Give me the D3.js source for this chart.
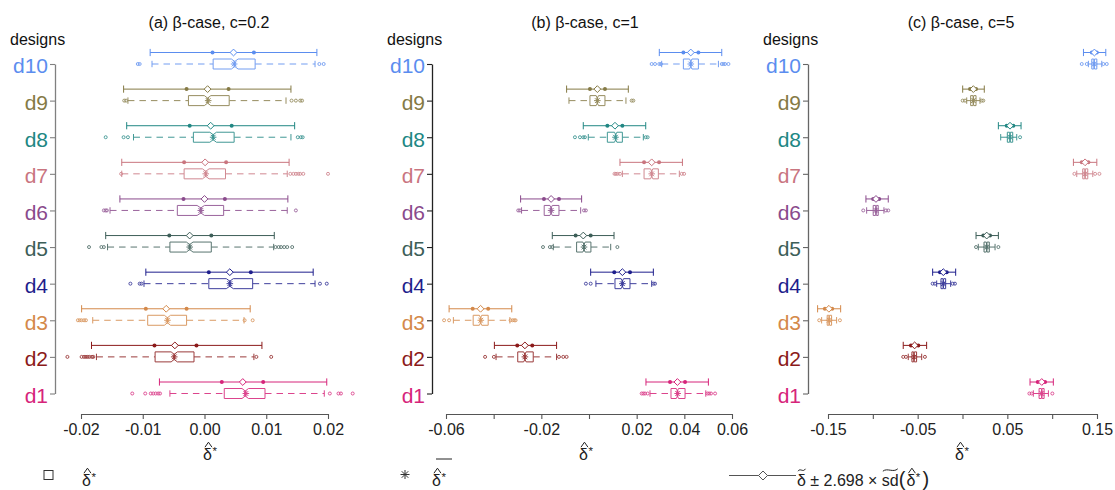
<!DOCTYPE html>
<html>
<head>
<meta charset="utf-8">
<script src="https://cdn.jsdelivr.net/npm/d3@7"></script>
<style>
  body { margin: 0; background: #fff; }
  text { font-family: "Liberation Sans", Arial, sans-serif; }
</style>
</head>
<body>
<svg id="chart" width="1115" height="490"></svg>
<script>
// designs, bottom to top
var designs = ["d1", "d2", "d3", "d4", "d5", "d6", "d7", "d8", "d9", "d10"];
var designColors = ["#D6247A", "#8B1A1A", "#D4894A", "#1E1E8C", "#3D5E58",
                    "#8A4A8C", "#C9757F", "#218783", "#857A45", "#5B8DEF"];

// upper line: [lo, dotLo, centre, dotHi, hi]  (centre +- 0.6745 sd, +- 2.698 sd)
// lower box:  [whiskerLo, q1, median, q3, whiskerHi]

// ---- (a) c = 0.2
var aBand = [
  [-0.0073, 0.0028, 0.0062, 0.0095, 0.0198],
  [-0.0183, -0.0081, -0.0048, -0.0013, 0.0093],
  [-0.0199, -0.0095, -0.0062, -0.0029, 0.0074],
  [-0.0095, 0.0007, 0.0041, 0.0075, 0.0176],
  [-0.0160, -0.0057, -0.0024, 0.0011, 0.0113],
  [-0.0137, -0.0034, 0.0000, 0.0033, 0.0135],
  [-0.0134, -0.0033, 0.0001, 0.0035, 0.0137],
  [-0.0126, -0.0024, 0.0010, 0.0044, 0.0146],
  [-0.0131, -0.0029, 0.0005, 0.0039, 0.0140],
  [-0.0088, 0.0013, 0.0047, 0.0080, 0.0182]
];
var aBox = [
  [-0.0056, 0.0032, 0.0066, 0.0098, 0.0194],
  [-0.0175, -0.0080, -0.0049, -0.0017, 0.0080],
  [-0.0181, -0.0092, -0.0060, -0.0029, 0.0064],
  [-0.0098, 0.0007, 0.0041, 0.0078, 0.0179],
  [-0.0157, -0.0056, -0.0024, 0.0011, 0.0112],
  [-0.0153, -0.0044, -0.0006, 0.0031, 0.0134],
  [-0.0134, -0.0033, 0.0002, 0.0034, 0.0134],
  [-0.0115, -0.0018, 0.0014, 0.0048, 0.0140],
  [-0.0124, -0.0026, 0.0005, 0.0040, 0.0132],
  [-0.0085, 0.0014, 0.0049, 0.0082, 0.0179]
];
var aMean = [0.0067, -0.0049, -0.0060, 0.0041, -0.0024, -0.0006, 0.0002, 0.0014, 0.0006, 0.0048];
var aOut = [
  [-0.0117, -0.0096, -0.0087, -0.0083, -0.0079, -0.0075, -0.0072, 0.0203, 0.0217, 0.0221, 0.0240],
  [-0.0222, -0.0199, -0.0195, -0.0192, -0.0189, -0.0186, -0.0182, -0.0180, 0.0084, 0.0108],
  [-0.0205, -0.0202, -0.0199, -0.0195, -0.0192, 0.0065, 0.0078],
  [-0.0120, -0.0105, -0.0102, 0.0187, 0.0198],
  [-0.0187, -0.0167, -0.0163, 0.0115, 0.0120, 0.0124, 0.0129, 0.0134, 0.0142],
  [-0.0163, -0.0160, -0.0158, 0.0148],
  [-0.0135, 0.0139, 0.0144, 0.0148, 0.0152, 0.0155, 0.0160, 0.0200],
  [-0.0160, -0.0131, -0.0124, 0.0151, 0.0156, 0.0159],
  [-0.0130, -0.0127, 0.0141, 0.0148, 0.0155, 0.0158],
  [-0.0108, -0.0105, 0.0186, 0.0193]
];
var aTicks = [-0.02, -0.01, 0, 0.01, 0.02];
var aTickLabels = ["-0.02", "-0.01", "0.00", "0.01", "0.02"];

// ---- (b) c = 1
var bBand = [
  [0.0239, 0.0340, 0.0371, 0.0403, 0.0501],
  [-0.0397, -0.0301, -0.0269, -0.0238, -0.0136],
  [-0.0587, -0.0488, -0.0455, -0.0423, -0.0324],
  [0.0007, 0.0106, 0.0140, 0.0172, 0.0270],
  [-0.0154, -0.0056, -0.0024, 0.0007, 0.0105],
  [-0.0287, -0.0189, -0.0159, -0.0126, -0.0031],
  [0.0130, 0.0231, 0.0263, 0.0294, 0.0392],
  [-0.0024, 0.0077, 0.0109, 0.0140, 0.0238],
  [-0.0094, 0.0004, 0.0035, 0.0067, 0.0165],
  [0.0295, 0.0396, 0.0427, 0.0459, 0.0557]
];
var bBox = [
  [0.0256, 0.0344, 0.0371, 0.0403, 0.0490],
  [-0.0390, -0.0299, -0.0269, -0.0234, -0.0136],
  [-0.0569, -0.0486, -0.0455, -0.0423, -0.0332],
  [0.0029, 0.0109, 0.0140, 0.0172, 0.0263],
  [-0.0150, -0.0052, -0.0021, 0.0008, 0.0091],
  [-0.0283, -0.0188, -0.0159, -0.0126, -0.0035],
  [0.0140, 0.0231, 0.0263, 0.0291, 0.0379],
  [-0.0003, 0.0077, 0.0112, 0.0140, 0.0228],
  [-0.0084, 0.0004, 0.0035, 0.0067, 0.0155],
  [0.0305, 0.0396, 0.0427, 0.0459, 0.0543]
];
var bMean = [0.0372, -0.0269, -0.0454, 0.0140, -0.0021, -0.0159, 0.0263, 0.0111, 0.0035, 0.0427];
var bOut = [
  [0.0221, 0.0228, 0.0235, 0.0246, 0.0497, 0.0504, 0.0512, 0.0529],
  [-0.0436, -0.0399, -0.0126, -0.0108, -0.0094],
  [-0.0608, -0.0587, -0.0329, -0.0320, -0.0313, -0.0308],
  [-0.0013, 0.0007, 0.0270, 0.0277],
  [-0.0193, -0.0164, -0.0154, 0.0119],
  [-0.0297, -0.0290, -0.0021, -0.0013],
  [0.0107, 0.0113, 0.0120, 0.0130, 0.0389, 0.0399],
  [-0.0059, -0.0038, -0.0024, -0.0017, 0.0238, 0.0246],
  [0.0179, 0.0186],
  [0.0263, 0.0277, 0.0295, 0.0302, 0.0557, 0.0564, 0.0571, 0.0585]
];
var bTicks = [-0.06, -0.04, -0.02, 0, 0.02, 0.04, 0.06];
var bTickLabels = ["-0.06", "", "-0.02", "", "0.02", "0.04", "0.06"];

// ---- (c) c = 5
var cBand = [
  [0.0753, 0.0839, 0.0884, 0.0921, 0.1013],
  [-0.0661, -0.0575, -0.0534, -0.0493, -0.0400],
  [-0.1616, -0.1535, -0.1490, -0.1453, -0.1359],
  [-0.0333, -0.0251, -0.0214, -0.0176, -0.0076],
  [0.0151, 0.0232, 0.0270, 0.0307, 0.0400],
  [-0.1077, -0.0996, -0.0965, -0.0929, -0.0828],
  [0.1237, 0.1330, 0.1367, 0.1404, 0.1498],
  [0.0400, 0.0493, 0.0530, 0.0567, 0.0653],
  [0.0002, 0.0084, 0.0121, 0.0151, 0.0243],
  [0.1349, 0.1442, 0.1471, 0.1498, 0.1598]
];
var cBox = [
  [0.0790, 0.0854, 0.0884, 0.0910, 0.0958],
  [-0.0605, -0.0564, -0.0541, -0.0512, -0.0455],
  [-0.1571, -0.1509, -0.1487, -0.1460, -0.1404],
  [-0.0288, -0.0240, -0.0214, -0.0188, -0.0132],
  [0.0176, 0.0240, 0.0270, 0.0299, 0.0363],
  [-0.1069, -0.0996, -0.0965, -0.0940, -0.0876],
  [0.1274, 0.1341, 0.1367, 0.1397, 0.1453],
  [0.0426, 0.0500, 0.0530, 0.0560, 0.0605],
  [0.0047, 0.0091, 0.0121, 0.0151, 0.0195],
  [0.1404, 0.1442, 0.1468, 0.1498, 0.1553]
];
var cMean = [0.0884, -0.0540, -0.1487, -0.0214, 0.0270, -0.0965, 0.1367, 0.0530, 0.0121, 0.1469];
var cOut = [
  [0.0746, 0.0772, 0.1002],
  [-0.0661, -0.0631, -0.0419],
  [-0.1598, -0.1367],
  [-0.0333, -0.0307, -0.0109, -0.0084],
  [0.0151, 0.0400],
  [-0.1107, -0.0854, -0.0828],
  [0.1248, 0.1479, 0.1527],
  [0.0642],
  [0.0002, 0.0028, 0.0214, 0.0232],
  [0.1330, 0.1386, 0.1571, 0.1609]
];
var cTicks = [-0.15, -0.10, -0.05, 0, 0.05, 0.10, 0.15];
var cTickLabels = ["-0.15", "", "-0.05", "", "0.05", "", "0.15"];

var panels = [
  { title: "(a) \u03b2-case, c=0.2", dom: [-0.02, 0.02], range: [81, 328], axisX: 55, mid: 209, axisColor: "#808080",
    band: aBand, box: aBox, mean: aMean, out: aOut, ticks: aTicks, tickLabels: aTickLabels },
  { title: "(b) \u03b2-case, c=1", dom: [-0.06, 0.06], range: [446, 732], axisX: 432, mid: 585, axisColor: "#222",
    band: bBand, box: bBox, mean: bMean, out: bOut, ticks: bTicks, tickLabels: bTickLabels },
  { title: "(c) \u03b2-case, c=5", dom: [-0.15, 0.15], range: [828, 1097], axisX: 808, mid: 961, axisColor: "#666",
    band: cBand, box: cBox, mean: cMean, out: cOut, ticks: cTicks, tickLabels: cTickLabels }
];

var svg = d3.select("#chart");
var y = d3.scalePoint().domain(designs).range([393.5, 64]);
var upperOffset = 11.5;
var boxHalf = 5;
var notchFrac = 0.08;

function asterisk(g, cx, cy, s, color) {
  var d = s * 0.72;
  var p = "M" + (cx - s) + "," + cy + "H" + (cx + s) +
          "M" + cx + "," + (cy - s) + "V" + (cy + s) +
          "M" + (cx - d) + "," + (cy - d) + "L" + (cx + d) + "," + (cy + d) +
          "M" + (cx - d) + "," + (cy + d) + "L" + (cx + d) + "," + (cy - d);
  g.append("path").attr("d", p).attr("stroke", color).attr("stroke-width", 1).attr("fill", "none");
}

function diamond(g, cx, cy, s, color) {
  g.append("path")
    .attr("d", "M" + (cx - s) + "," + cy + "L" + cx + "," + (cy - s) + "L" + (cx + s) + "," + cy + "L" + cx + "," + (cy + s) + "Z")
    .attr("fill", "#fff").attr("stroke", color).attr("stroke-width", 1);
}

function hat(g, cx, baseY) {
  g.append("path")
    .attr("d", "M" + (cx - 3.5) + "," + baseY + "L" + cx + "," + (baseY - 5) + "L" + (cx + 3.5) + "," + baseY)
    .attr("fill", "none").attr("stroke", "#222").attr("stroke-width", 1);
}

function tilde(g, x0, x1, cy) {
  var w = x1 - x0;
  g.append("path")
    .attr("d", "M" + x0 + "," + (cy + 1.2) + "C" + (x0 + w * 0.3) + "," + (cy - 2.5) + " " +
               (x0 + w * 0.7) + "," + (cy + 3) + " " + x1 + "," + (cy - 1.2))
    .attr("fill", "none").attr("stroke", "#222").attr("stroke-width", 1);
}

// delta-hat-star; returns width used
function deltaHatStar(g, x, baseline, size) {
  var t = g.append("text").attr("x", x).attr("y", baseline).attr("font-size", size).attr("fill", "#222").text("\u03b4");
  var w = t.node().getComputedTextLength();
  hat(g, x + w / 2 + 1, baseline - size * 0.8);
  g.append("text").attr("x", x + w + 0.5).attr("y", baseline - size * 0.32)
    .attr("font-size", size * 0.72).attr("fill", "#222").text("*");
  return w + size * 0.45;
}

panels.forEach(function (p) {
  var g = svg.append("g");
  var x = d3.scaleLinear().domain(p.dom).range(p.range);

  // title
  g.append("text").attr("x", p.mid).attr("y", 28).attr("text-anchor", "middle")
    .attr("font-size", 16).attr("fill", "#111").text(p.title);

  // "designs"
  g.append("text").attr("x", p.axisX - 45).attr("y", 45)
    .attr("font-size", 16).attr("fill", "#111").text("designs");

  // y axis
  var ya = g.append("g").attr("transform", "translate(" + p.axisX + ",0)")
    .call(d3.axisLeft(y).tickSize(5).tickSizeOuter(0).tickPadding(2));
  ya.select(".domain").attr("stroke", p.axisColor).attr("stroke-width", 1.3);
  ya.selectAll(".tick line").attr("stroke", p.axisColor).attr("stroke-width", 1.1);
  ya.selectAll(".tick text")
    .attr("font-size", 21).attr("font-family", "Liberation Sans, Arial, sans-serif").attr("dy", "0.42em")
    .attr("fill", function (d) { return designColors[designs.indexOf(d)]; });

  // x axis
  var xa = g.append("g").attr("transform", "translate(0,414)")
    .call(d3.axisBottom(x).tickValues(p.ticks).tickSize(5).tickSizeOuter(0).tickPadding(4.5)
      .tickFormat(function (d, i) { return p.tickLabels[i]; }));
  xa.select(".domain").attr("stroke", "#555").attr("stroke-width", 1.1);
  xa.selectAll(".tick line").attr("stroke", "#555").attr("stroke-width", 1.1);
  xa.selectAll(".tick text").attr("font-size", 16).attr("fill", "#222")
    .attr("font-family", "Liberation Sans, Arial, sans-serif");

  // x label
  deltaHatStar(g, p.mid - 6, 460, 16);

  // marks
  designs.forEach(function (d, i) {
    var col = designColors[i];
    var yc = y(d);
    var yu = yc - upperOffset;
    var band = p.band[i], box = p.box[i];

    // upper: centre +- k*sd line
    var ug = g.append("g");
    ug.append("line").attr("x1", x(band[0])).attr("x2", x(band[4])).attr("y1", yu).attr("y2", yu)
      .attr("stroke", col).attr("stroke-width", 1);
    [band[0], band[4]].forEach(function (v) {
      ug.append("line").attr("x1", x(v)).attr("x2", x(v)).attr("y1", yu - 3.6).attr("y2", yu + 3.6)
        .attr("stroke", col).attr("stroke-width", 1);
    });
    [band[1], band[3]].forEach(function (v) {
      ug.append("circle").attr("cx", x(v)).attr("cy", yu).attr("r", 2).attr("fill", col);
    });
    diamond(ug, x(band[2]), yu, 3.4, col);

    // lower: notched boxplot
    var lg = g.append("g").attr("opacity", 0.85);
    var dash = "6.5,5";
    lg.append("line").attr("x1", x(box[0])).attr("x2", x(box[1])).attr("y1", yc).attr("y2", yc)
      .attr("stroke", col).attr("stroke-dasharray", dash).attr("stroke-width", 1);
    lg.append("line").attr("x1", x(box[3])).attr("x2", x(box[4])).attr("y1", yc).attr("y2", yc)
      .attr("stroke", col).attr("stroke-dasharray", dash).attr("stroke-width", 1);
    [box[0], box[4]].forEach(function (v) {
      lg.append("line").attr("x1", x(v)).attr("x2", x(v)).attr("y1", yc - 3.2).attr("y2", yc + 3.2)
        .attr("stroke", col).attr("stroke-width", 1);
    });
    var q1 = x(box[1]), md = x(box[2]), q3 = x(box[3]);
    var n = (q3 - q1) * notchFrac;
    var pts = [[q1, yc - boxHalf], [md - n, yc - boxHalf], [md, yc - boxHalf / 2], [md + n, yc - boxHalf],
               [q3, yc - boxHalf], [q3, yc + boxHalf], [md + n, yc + boxHalf], [md, yc + boxHalf / 2],
               [md - n, yc + boxHalf], [q1, yc + boxHalf]];
    lg.append("path").attr("d", d3.line()(pts) + "Z")
      .attr("fill", "#fff").attr("stroke", col).attr("stroke-width", 1);
    lg.append("line").attr("x1", md).attr("x2", md).attr("y1", yc - boxHalf / 2).attr("y2", yc + boxHalf / 2)
      .attr("stroke", col).attr("stroke-width", 2);
    p.out[i].forEach(function (v) {
      lg.append("circle").attr("cx", x(v)).attr("cy", yc).attr("r", 1.5)
        .attr("fill", "none").attr("stroke", col).attr("stroke-width", 0.9);
    });
    asterisk(lg, x(p.mean[i]), yc, 3.3, col);
  });
});

// legend
var legendBase = 486;
var lg = svg.append("g");
lg.append("rect").attr("x", 44).attr("y", 470.5).attr("width", 9).attr("height", 9)
  .attr("fill", "none").attr("stroke", "#333").attr("stroke-width", 1);
deltaHatStar(lg, 82, legendBase, 16);

asterisk(lg, 405, 474.5, 4.5, "#333");
deltaHatStar(lg, 432, legendBase, 16);
lg.append("line").attr("x1", 436).attr("x2", 452).attr("y1", 459).attr("y2", 459)
  .attr("stroke", "#222").attr("stroke-width", 1);

lg.append("line").attr("x1", 729).attr("x2", 796).attr("y1", 475.5).attr("y2", 475.5)
  .attr("stroke", "#555").attr("stroke-width", 1.1);
diamond(lg, 763, 475.5, 4.5, "#555");

var lx = 797, lb = legendBase;
function piece(str, size, dy) {
  var t = lg.append("text").attr("x", lx).attr("y", lb + (dy || 0)).attr("font-size", size)
    .attr("fill", "#222").style("white-space", "pre").text(str);
  var w = t.node().getComputedTextLength();
  var x0 = lx;
  lx += w;
  return [x0, lx];
}
var dTil = piece("\u03b4", 16);
tilde(lg, dTil[0] + 1, dTil[1] - 0.5, 470);
piece("\u00a0\u00b1\u00a02.698\u00a0\u00d7\u00a0", 16);
var sdPos = piece("sd", 16);
tilde(lg, sdPos[0] + 1, sdPos[1] - 1, 470);
piece("(", 20, 0);
lx += 1;
lx += deltaHatStar(lg, lx, lb, 16);
piece(")", 20, 0);
</script>
</body>
</html>
